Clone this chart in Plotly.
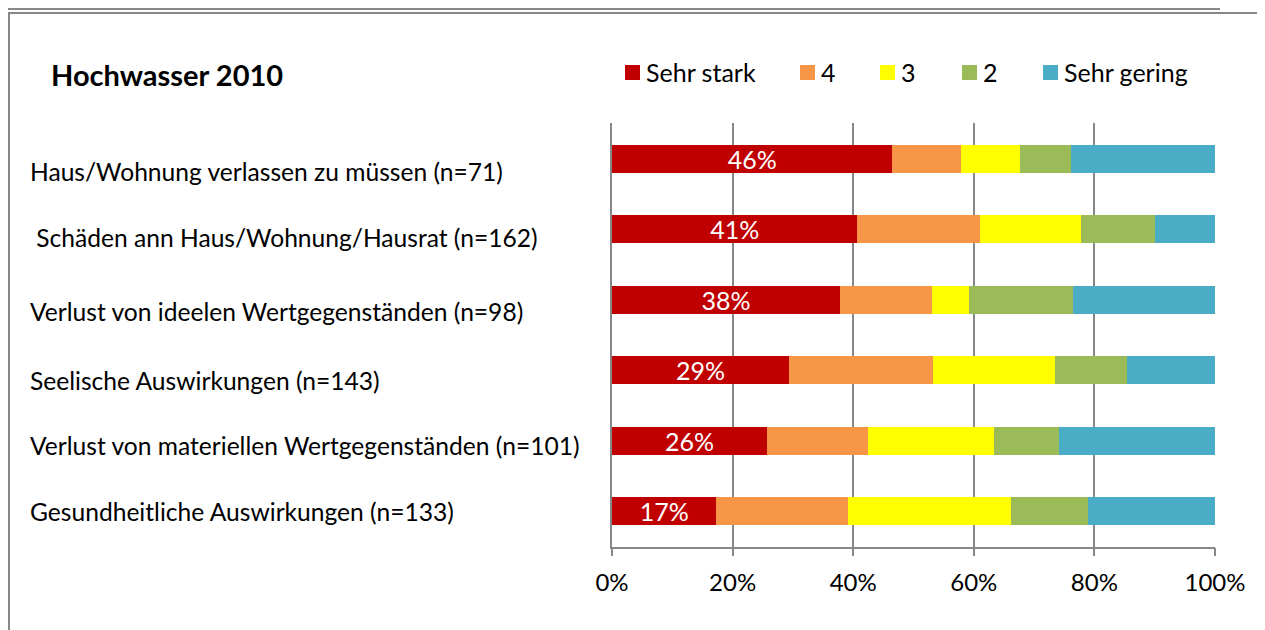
import plotly.graph_objects as go

W, H = 1265, 630
OFF = 8  # the page body shifts the figure by 8 px

categories = [
    "Haus/Wohnung verlassen zu müssen (n=71)",
    "\u00a0Schäden ann Haus/Wohnung/Hausrat (n=162)",
    "Verlust von ideelen Wertgegenständen (n=98)",
    "Seelische Auswirkungen (n=143)",
    "Verlust von materiellen Wertgegenständen (n=101)",
    "Gesundheitliche Auswirkungen (n=133)",
]
series_names = ["Sehr stark", "4", "3", "2", "Sehr gering"]
colors = ["#C00000", "#F79646", "#FFFF00", "#9BBB59", "#4BACC6"]

# percent shares per category
sehr_stark = [46.5, 40.7, 37.8, 29.4, 25.7, 17.3]
stufe_4 = [11.3, 20.4, 15.3, 23.8, 16.8, 21.8]
stufe_3 = [9.9, 16.7, 6.1, 20.3, 20.8, 27.1]
stufe_2 = [8.5, 12.3, 17.3, 11.9, 10.9, 12.8]
sehr_gering = [23.8, 9.9, 23.5, 14.6, 25.8, 21.0]
values = [sehr_stark, stufe_4, stufe_3, stufe_2, sehr_gering]

x_ticks = [0, 20, 40, 60, 80, 100]

# the row labels in the original sit a little below their bars
label_shift = [-12.5, -8, -12, -10, -4.5, 0]

font = "Lato"
fsize = 24.6
grey = "#878787"


def px(x):
    return (x - OFF) / W


def py(y):
    return 1 - (y - OFF) / H


fig = go.Figure()
for i, (name, vals) in enumerate(zip(series_names, values)):
    fig.add_trace(go.Bar(
        y=categories, x=vals, name=name, orientation="h",
        marker=dict(color=colors[i], line=dict(width=0)),
        text=[f"{v:.0f}%" for v in vals] if i == 0 else None,
        textposition="inside" if i == 0 else "none",
        insidetextanchor="middle", constraintext="none",
        textfont=dict(color="white", size=25, family=font),
        showlegend=False,
    ))

shapes = []
annotations = []

# category labels, left aligned
for c, shift in zip(categories, label_shift):
    annotations.append(dict(
        x=px(28), xref="paper", y=c, yref="y", yshift=shift, text=c, showarrow=False,
        xanchor="left", yanchor="middle", font=dict(size=fsize, family=font, color="black"),
    ))

# title
annotations.append(dict(
    x=px(49), y=py(75), xref="paper", yref="paper", text="<b>Hochwasser 2010</b>",
    showarrow=False, xanchor="left", yanchor="middle",
    font=dict(size=29, family=font, color="black"),
))

# legend drawn by hand to match spacing
legend_x = [625, 800, 880, 962, 1043]
for name, col, lx in zip(series_names, colors, legend_x):
    shapes.append(dict(
        type="rect", xref="paper", yref="paper",
        x0=px(lx), x1=px(lx + 15), y0=py(80), y1=py(65),
        fillcolor=col, line=dict(width=0),
    ))
    annotations.append(dict(
        x=px(lx + 19), y=py(72), xref="paper", yref="paper", text=name,
        showarrow=False, xanchor="left", yanchor="middle",
        font=dict(size=25, family=font, color="black"),
    ))

# frames
shapes.append(dict(type="rect", xref="paper", yref="paper",
                   x0=px(3), x1=px(1219), y0=py(9), y1=py(-20),
                   line=dict(color=grey, width=2), fillcolor="rgba(0,0,0,0)"))
shapes.append(dict(type="rect", xref="paper", yref="paper",
                   x0=px(9), x1=px(1261), y0=py(660), y1=py(13),
                   line=dict(color=grey, width=2), fillcolor="rgba(0,0,0,0)"))

fig.update_layout(
    width=W, height=H,
    barmode="stack", bargap=0.6,
    margin=dict(l=0, r=0, t=0, b=0, autoexpand=False),
    paper_bgcolor="white", plot_bgcolor="white",
    shapes=shapes, annotations=annotations,
    showlegend=False,
    uniformtext=dict(mode=False),
)
fig.update_xaxes(
    domain=[px(612), px(1215)], range=[0, 100],
    tickvals=x_ticks, ticktext=[f"{t}%" for t in x_ticks],
    showgrid=True, gridcolor=grey, gridwidth=1.5, zeroline=False,
    showline=True, linecolor=grey, linewidth=1.5,
    ticks="outside", ticklen=8, tickcolor=grey, tickwidth=1.5,
    ticklabelstandoff=6,
    tickfont=dict(size=24, family=font, color="black"),
)
fig.update_yaxes(
    domain=[py(546.5), py(123.4)],
    autorange="reversed", showticklabels=False,
    showgrid=False, zeroline=False,
    showline=True, linecolor=grey, linewidth=1.5,
)

fig.write_html("out.html")
